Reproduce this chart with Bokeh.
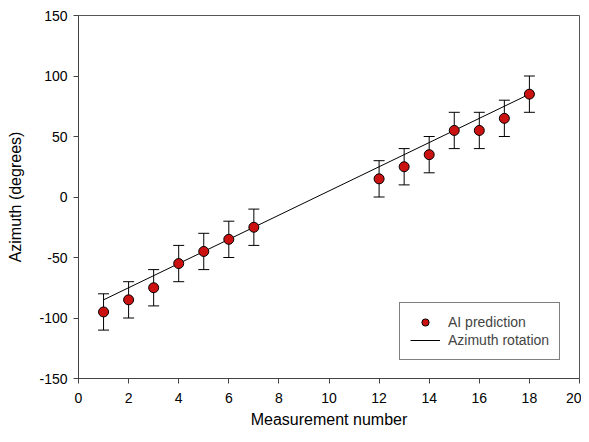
from bokeh.plotting import figure
from bokeh.models import Range1d, FixedTicker, Whisker, ColumnDataSource, Legend, LegendItem, TeeHead, CustomJSTickFormatter
from bokeh.embed import file_html
from bokeh.resources import INLINE

# Data
measurement = [1, 2, 3, 4, 5, 6, 7, 12, 13, 14, 15, 16, 17, 18]
ai_prediction = [-95, -85, -75, -55, -45, -35, -25, 15, 25, 35, 55, 55, 65, 85]
error = [15, 15, 15, 15, 15, 15, 15, 15, 15, 15, 15, 15, 15, 15]
rotation_x = [1, 18]
rotation_y = [-85, 85]
x_ticks = [0, 2, 4, 6, 8, 10, 12, 14, 16, 18, 20]
y_ticks = [-150, -100, -50, 0, 50, 100, 150]

FONT = "Liberation Sans"

p = figure(width=581, height=434, output_backend="svg", toolbar_location=None,
           x_range=Range1d(0, 20), y_range=Range1d(-150, 150),
           min_border_left=78, min_border_right=2, min_border_top=15, min_border_bottom=56)
p.grid.visible = False
p.outline_line_color = "#555555"
p.outline_line_width = 1

fmt = CustomJSTickFormatter(code="return tick.toFixed(0);")
for ax in (p.xaxis[0], p.yaxis[0]):
    ax.axis_line_color = "#444444"
    ax.major_tick_line_color = "#444444"
    ax.major_tick_out = 5
    ax.major_tick_in = 0
    ax.minor_tick_line_color = None
    ax.major_label_text_font = FONT
    ax.major_label_text_font_size = "14px"
    ax.major_label_text_color = "black"
    ax.axis_label_text_font = FONT
    ax.axis_label_text_font_size = "16px"
    ax.axis_label_text_font_style = "normal"
    ax.axis_label_text_color = "black"
    ax.formatter = fmt

p.xaxis.ticker = FixedTicker(ticks=x_ticks)
p.yaxis.ticker = FixedTicker(ticks=y_ticks)
p.xaxis.axis_label = "Measurement number"
p.yaxis.axis_label = "Azimuth (degrees)"
p.xaxis.major_label_standoff = 9
p.xaxis.axis_label_standoff = 5
p.yaxis.major_label_standoff = 6
p.yaxis.axis_label_standoff = 12

src = ColumnDataSource(dict(
    x=measurement, y=ai_prediction,
    upper=[v + e for v, e in zip(ai_prediction, error)],
    lower=[v - e for v, e in zip(ai_prediction, error)],
))

w = Whisker(source=src, base="x", upper="upper", lower="lower", line_color="black", line_width=1,
            upper_head=TeeHead(size=11, line_color="black", line_width=1),
            lower_head=TeeHead(size=11, line_color="black", line_width=1))
p.add_layout(w)

line_r = p.line(rotation_x, rotation_y, line_color="black", line_width=1)
pts = p.scatter("x", "y", source=src, size=10, fill_color="#cc1111", line_color="black", line_width=1)

legend = Legend(items=[LegendItem(label="AI prediction", renderers=[pts]),
                       LegendItem(label="Azimuth rotation", renderers=[line_r])],
                location=(321, 18))
legend.border_line_color = "black"
legend.border_line_width = 1
legend.background_fill_color = "white"
legend.background_fill_alpha = 1
legend.label_text_font = FONT
legend.label_text_font_size = "14px"
legend.glyph_width = 30
legend.glyph_height = 18
legend.label_height = 18
legend.label_standoff = 8
legend.spacing = 0
legend.padding = 10
legend.margin = 0
p.add_layout(legend)

open("out.html", "w").write(file_html(p, INLINE))
